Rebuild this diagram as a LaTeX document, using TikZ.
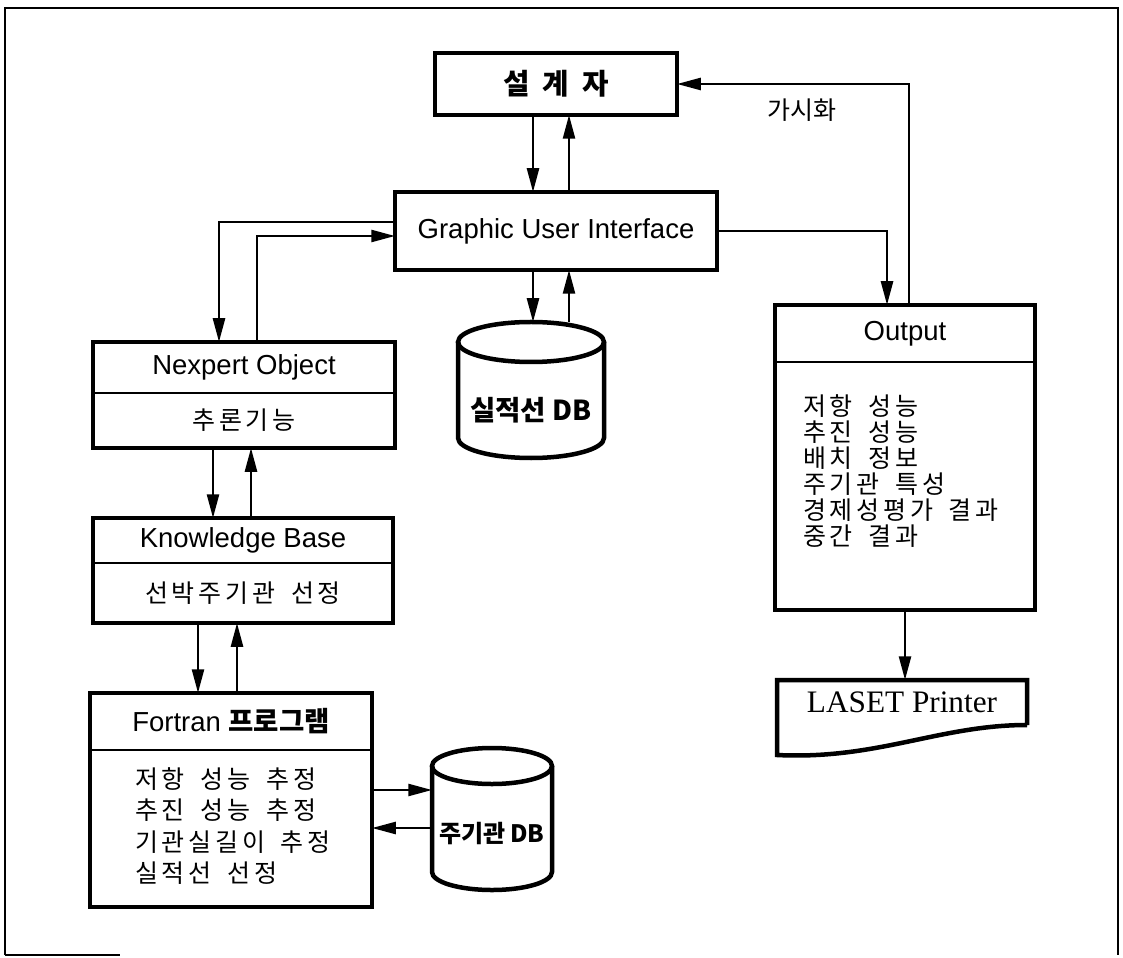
\documentclass[tikz,border=0pt]{standalone}
\usepackage{fontspec}
\setmainfont{Liberation Sans}
\newfontfamily\kr{Noto Sans CJK KR}
\newfontfamily\krw{Noto Sans CJK KR}[LetterSpace=15,WordSpace=1.7]
\newfontfamily\prnfont{Liberation Serif}
\usetikzlibrary{arrows.meta,positioning}

\begin{document}
\begin{tikzpicture}[x=0.4pt,y=-0.4pt,
  every node/.style={outer sep=0pt},
  thickbox/.style={draw,line width=1.8pt},
  part/.style={inner sep=0pt,font=\fontsize{11}{13}\selectfont},
  divider/.style={line width=1pt},
  dbline/.style={line width=1.8pt},
  flow/.style={line width=1pt,-{Triangle[length=9.5pt,width=4.8pt]}},
  krbody/.style={font=\krw\fontsize{10}{12}\selectfont},
  krlist/.style={font=\krw\fontsize{10}{#1}\selectfont,align=left,inner sep=0pt}]
\useasboundingbox (0,0) rectangle (1123,957);
\draw[line width=0.7pt] (5,955) -- (5,8) -- (1118,8) -- (1118,955);
\draw[line width=0.7pt] (5,955) -- (120,955);

\node[thickbox,minimum width=96.8pt,minimum height=24.8pt,
  font=\kr\bfseries\fontsize{11.5}{13}\selectfont] (des) at (556,84) {설\hspace{0.45em}계\hspace{0.45em}자};
\node[thickbox,minimum width=128.8pt,minimum height=31.2pt,
  font=\fontsize{11}{13}\selectfont] (gui) at (556,231) {Graphic User Interface};

\node[part,minimum width=120.8pt,minimum height=20.4pt] (nex) at (244,367.5) {Nexpert Object};
\node[part,krbody,minimum width=120.8pt,minimum height=22pt,below=0pt of nex] (nexb) {추론기능};
\draw[thickbox] (nex.north west) rectangle (nexb.south east);
\draw[divider] (nex.south west) -- (nex.south east);

\node[part,minimum width=120pt,minimum height=18pt] (kb) at (243,540.5) {Knowledge Base};
\node[part,krbody,minimum width=120pt,minimum height=24pt,below=0pt of kb] (kbb) {선박주기관 선정};
\draw[thickbox] (kb.north west) rectangle (kbb.south east);
\draw[divider] (kb.south west) -- (kb.south east);

\node[part,minimum width=112.8pt,minimum height=22.8pt] (fort) at (231,721.5) {Fortran {\kr\bfseries 프로그램}};
\node[part,minimum width=112.8pt,minimum height=62.8pt,below=0pt of fort] (fortb) {};
\node[krlist=12.6pt,anchor=north west] (forttxt) at ([xshift=18pt,yshift=-7pt]fortb.north west)
  {저항 성능 추정\\추진 성능 추정\\기관실길이 추정\\실적선 선정};
\draw[thickbox] (fort.north west) rectangle (fortb.south east);
\draw[divider] (fort.south west) -- (fort.south east);

\node[part,minimum width=104pt,minimum height=22.8pt] (outh) at (905,333.5) {Output};
\node[part,minimum width=104pt,minimum height=99.2pt,below=0pt of outh] (outb) {};
\node[krlist=10.4pt,anchor=north west] (outtxt) at ([xshift=11.2pt,yshift=-13.2pt]outb.north west)
  {저항 성능\\추진 성능\\배치 정보\\주기관 특성\\경제성평가 결과\\중간 결과};
\draw[thickbox] (outh.north west) rectangle (outb.south east);
\draw[divider] (outh.south west) -- (outh.south east);

\node[minimum width=100pt,minimum height=18pt,font=\prnfont\fontsize{12.5}{14}\selectfont] (prn) at (902,702.5) {LASET Printer};
\draw[thickbox] (prn.south east) -- (prn.north east) -- (prn.north west) -- ([yshift=-12pt]prn.south west)
  .. controls ([xshift=40pt,yshift=-14pt]prn.south west) and ([xshift=-35pt]prn.south east) .. (prn.south east);

\node[inner sep=0pt,font=\kr\bfseries\fontsize{11}{13}\selectfont] (dbs) at (531,410) {실적선 DB};
\coordinate (dbstop) at ([yshift=35.2pt]dbs.center);
\draw[dbline] ([shift={(-29.2pt,27.2pt)}]dbs.center) -- ([shift={(-29.2pt,-11.2pt)}]dbs.center)
  arc[start angle=180,end angle=360,x radius=29.2pt,y radius=8pt] -- ([shift={(29.2pt,27.2pt)}]dbs.center);
\draw[dbline] ([yshift=27.2pt]dbs.center) ellipse [x radius=29.2pt,y radius=8pt];

\node[inner sep=0pt,font=\kr\bfseries\fontsize{9.6}{12}\selectfont] (dbm) at (492,834) {주기관\,DB};
\coordinate (dbmw) at ([xshift=-24pt]dbm.center);
\draw[dbline] ([shift={(-24pt,27.2pt)}]dbm.center) -- ([shift={(-24pt,-15.2pt)}]dbm.center)
  arc[start angle=180,end angle=360,x radius=24pt,y radius=7.2pt] -- ([shift={(24pt,27.2pt)}]dbm.center);
\draw[dbline] ([yshift=27.2pt]dbm.center) ellipse [x radius=24pt,y radius=7.2pt];

\node[font=\kr\fontsize{10}{12}\selectfont] (vis) at (802,110) {가시화};

\coordinate (xa) at (533,0);
\coordinate (xb) at (569,0);
\coordinate (la) at (219,222);
\coordinate (lb) at (257,236);
\coordinate (ka) at (213,0);
\coordinate (kc) at (251,0);
\coordinate (fa) at (198,0);
\coordinate (fc) at (237,0);
\coordinate (da) at (0,790);
\coordinate (dc) at (0,828);
\coordinate (ox) at (887,0);
\coordinate (vx) at (909,0);

\draw[flow] (des.south -| xa) -- (gui.north -| xa);
\draw[flow] (gui.north -| xb) -- (des.south -| xb);
\draw[flow] (gui.south -| xa) -- (dbstop -| xa);
\draw[flow] (dbstop -| xb) -- (gui.south -| xb);
\draw[flow] (gui.west |- la) -| (nex.north -| la);
\draw[flow] (nex.north -| lb) |- (gui.west |- lb);
\draw[flow] (nexb.south -| ka) -- (kb.north -| ka);
\draw[flow] (kb.north -| kc) -- (nexb.south -| kc);
\draw[flow] (kbb.south -| fa) -- (fort.north -| fa);
\draw[flow] (fort.north -| fc) -- (kbb.south -| fc);
\draw[flow] (fortb.east |- da) -- (dbmw |- da);
\draw[flow] (dbmw |- dc) -- (fortb.east |- dc);
\draw[flow] (gui.east) -| (outh.north -| ox);
\draw[flow] (outh.north -| vx) |- (des.east);
\draw[flow] (outb.south) -- (outb.south |- prn.north);
\end{tikzpicture}
\end{document}
